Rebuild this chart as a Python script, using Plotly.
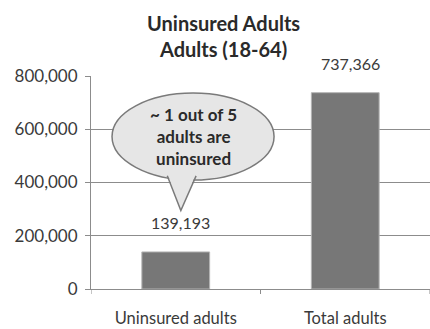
import plotly.graph_objects as go

categories = ["Uninsured adults", "Total adults"]
values = [139193, 737366]
value_labels = ["139,193", "737,366"]
y_ticks = [0, 200000, 400000, 600000, 800000]
y_tick_labels = ["0", "200,000", "400,000", "600,000", "800,000"]
title_lines = ["Uninsured Adults", "Adults (18-64)"]
callout_lines = ["~ 1 out of 5", "adults are", "uninsured"]

FONT = "Lato"
TEXT = "#3a3a3a"
GRID = "#8c8c8c"

fig = go.Figure()
fig.add_trace(go.Bar(
    x=[0, 1], y=values,
    marker=dict(color="#777777", line=dict(color="#b5b5b5", width=1)),
    width=0.4, hoverinfo="skip",
))

# value labels above each bar
for i, (v, lab) in enumerate(zip(values, value_labels)):
    fig.add_annotation(x=i + 0.03, y=v, text=lab, showarrow=False,
                       xref="x", yref="y", yanchor="bottom", yshift=18,
                       font=dict(family=FONT, size=16, color=TEXT))

# speech-bubble callout
ex0, ex1 = -0.376, 0.58
ey0, ey1 = 409000, 736000
bubble_fill = "#e6e6e6"
bubble_line = "#7a7a7a"
fig.add_shape(type="circle", xref="x", yref="y", x0=ex0, x1=ex1, y0=ey0, y1=ey1,
              fillcolor=bubble_fill, line=dict(color=bubble_line, width=1.5),
              layer="above")
tail = [(-0.05, 425000), (0.03, 295000), (0.12, 425000)]
fig.add_shape(type="path", xref="x", yref="y",
              path="M {} {} L {} {} L {} {} Z".format(
                  tail[0][0], tail[0][1] + 10000, tail[1][0], tail[1][1],
                  tail[2][0], tail[2][1] + 10000),
              fillcolor=bubble_fill, line=dict(width=0), layer="above")
fig.add_shape(type="path", xref="x", yref="y",
              path="M {} {} L {} {} L {} {}".format(
                  tail[0][0], tail[0][1], tail[1][0], tail[1][1],
                  tail[2][0], tail[2][1]),
              line=dict(color=bubble_line, width=1.5), layer="above")
fig.add_annotation(x=(ex0 + ex1) / 2, y=(ey0 + ey1) / 2 + 2000, xref="x", yref="y",
                   text="<br>".join("<b>%s</b>" % s for s in callout_lines),
                   showarrow=False, align="center",
                   font=dict(family=FONT, size=17, color="#2a2a2a"))

# chart title
fig.add_annotation(x=(223 - 91) / (430 - 91), y=1 + (76 - 9) / 213,
                   xref="paper", yref="paper",
                   text="<br>".join("<b>%s</b>" % s for s in title_lines),
                   showarrow=False, align="center", yanchor="top",
                   font=dict(family=FONT, size=20, color="#2a2a2a"))

fig.update_layout(
    width=430, height=329,
    margin=dict(l=91, r=0, t=76, b=40),
    paper_bgcolor="white", plot_bgcolor="white",
    showlegend=False,
    font=dict(family=FONT, size=17, color=TEXT),
    xaxis=dict(
        range=[-0.5, 1.5], tickmode="array", tickvals=[0, 1], ticktext=categories,
        tickfont=dict(size=16.5), ticklabelstandoff=14,
        showgrid=False, showline=True, linecolor=GRID, linewidth=1,
        ticks="", zeroline=False, fixedrange=True,
    ),
    yaxis=dict(
        range=[0, 800000], tickmode="array", tickvals=y_ticks, ticktext=y_tick_labels,
        ticklabelstandoff=4,
        showgrid=True, gridcolor=GRID, gridwidth=1,
        showline=True, linecolor=GRID, linewidth=1,
        ticks="outside", ticklen=5, tickcolor=GRID,
        zeroline=False, fixedrange=True,
    ),
)
# boundary tick marks on the category axis
for xb in [-0.5, 0.5, 1.5]:
    fig.add_shape(type="line", xref="x", yref="paper", x0=xb, x1=xb, y0=0, y1=-5 / 213,
                  line=dict(color=GRID, width=1))

fig.write_html("out.html")
